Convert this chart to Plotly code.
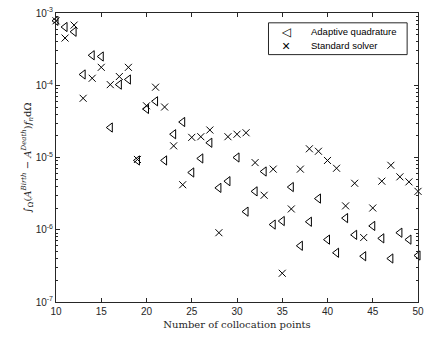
import plotly.graph_objects as go

# Number of collocation points
n_points = list(range(10, 51))

# Integral error for the adaptive quadrature scheme
adaptive = [
    7.8e-4, 6.4e-4, 5.5e-4, 1.41e-4, 2.6e-4, 2.5e-4, 2.6e-5, 1.02e-4, 1.2e-4, 9.1e-6,
    4.7e-5, 6.0e-5, 9.1e-6, 2.1e-5, 3.1e-5, 6.2e-6, 9.7e-6, 1.6e-5, 3.8e-6, 4.7e-6,
    1.0e-5, 1.78e-6, 3.4e-6, 6.4e-6, 1.18e-6, 1.32e-6, 3.9e-6, 6.0e-7, 1.29e-6, 2.7e-6,
    7.3e-7, 4.8e-7, 1.45e-6, 8.5e-7, 4.3e-7, 1.13e-6, 7.6e-7, 4.0e-7, 9.1e-7, 7.3e-7,
    4.4e-7,
]

# Integral error for the standard solver
standard = [
    7.8e-4, 4.5e-4, 6.8e-4, 6.6e-5, 1.25e-4, 1.77e-4, 1.02e-4, 1.32e-4, 1.77e-4, 9.4e-6,
    5.2e-5, 9.4e-5, 5.0e-5, 1.45e-5, 4.2e-6, 1.9e-5, 1.94e-5, 2.4e-5, 9.1e-7, 1.94e-5,
    2.1e-5, 2.2e-5, 8.5e-6, 3.0e-6, 6.9e-6, 2.5e-7, 1.94e-6, 6.9e-6, 1.32e-5, 1.22e-5,
    9.1e-6, 7.1e-6, 2.14e-6, 4.4e-6, 7.8e-7, 2.0e-6, 4.7e-6, 7.8e-6, 5.4e-6, 4.6e-6,
    3.4e-6,
]

series_names = ["Adaptive quadrature", "Standard solver"]
legend_glyphs = ["◁", "×"]

x_ticks = [10, 15, 20, 25, 30, 35, 40, 45, 50]
y_ticks = [1e-7, 1e-6, 1e-5, 1e-4, 1e-3]
y_ticktext = ["10<sup>-7</sup>", "10<sup>-6</sup>", "10<sup>-5</sup>", "10<sup>-4</sup>", "10<sup>-3</sup>"]
# minor ticks at 2..9 times each decade
y_minor = [m * d for d in [1e-7, 1e-6, 1e-5, 1e-4] for m in range(2, 10)]

ink = "#262626"

fig = go.Figure()
fig.add_trace(go.Scatter(
    x=n_points, y=adaptive, mode="markers", name=series_names[0],
    marker=dict(symbol="triangle-left-open", size=8, color="black", line=dict(width=1, color="black")),
    cliponaxis=False, showlegend=False,
))
fig.add_trace(go.Scatter(
    x=n_points, y=standard, mode="markers", name=series_names[1],
    marker=dict(symbol="x-thin-open", size=7, color="black", line=dict(width=1, color="black")),
    cliponaxis=False, showlegend=False,
))

# compact boxed legend in the upper right corner of the axes
box_x0, box_x1, box_y0, box_y1 = 0.587, 0.970, 0.856, 0.966
fig.add_shape(type="rect", xref="x domain", yref="y domain",
              x0=box_x0, x1=box_x1, y0=box_y0, y1=box_y1,
              line=dict(color=ink, width=1), fillcolor="white", layer="above")
glyph_fonts = [dict(family="DejaVu Sans", size=12, color="black"),
               dict(family="Liberation Sans, Arial", size=14, color="black")]
for i, (name, glyph) in enumerate(zip(series_names, legend_glyphs)):
    row_y = box_y1 - 0.031 - i * 0.048
    fig.add_annotation(xref="x domain", yref="y domain", x=0.636, y=row_y,
                       text=glyph, showarrow=False, xanchor="center", yanchor="middle",
                       font=glyph_fonts[i])
    fig.add_annotation(xref="x domain", yref="y domain", x=0.698, y=row_y,
                       text=name, showarrow=False, xanchor="left", yanchor="middle",
                       font=dict(family="Liberation Sans, Arial", size=9.5, color="black"))

axis_common = dict(
    showline=True, linecolor=ink, linewidth=1, mirror="ticks",
    ticks="inside", ticklen=4, tickcolor=ink, tickwidth=1,
    showgrid=False, zeroline=False,
    tickfont=dict(family="Liberation Sans, Arial", size=10, color=ink),
)

fig.update_layout(
    width=430, height=341,
    margin=dict(l=56, r=6, t=10, b=39),
    paper_bgcolor="white", plot_bgcolor="white",
    showlegend=False,
    xaxis=dict(
        range=[10, 50], tickvals=x_ticks,
        title=dict(text="Number of collocation points", standoff=4,
                   font=dict(family="DejaVu Serif, Liberation Serif", size=10, color=ink)),
        **axis_common,
    ),
    yaxis=dict(
        type="log", range=[-7, -3], tickvals=y_ticks, ticktext=y_ticktext,
        minor=dict(tickmode="array", tickvals=y_minor, ticks="inside", ticklen=2,
                   tickcolor=ink, tickwidth=1, showgrid=False),
        title=dict(
            text="∫<sub>Ω</sub>(<i>A</i><sup><i>Birth</i></sup> − <i>A</i><sup><i>Death</i></sup>)<i>f</i><sub><i>n</i></sub>dΩ",
            standoff=2,
            font=dict(family="DejaVu Serif, Liberation Serif", size=10, color=ink)),
        **axis_common,
    ),
)

fig.write_html("out.html")
